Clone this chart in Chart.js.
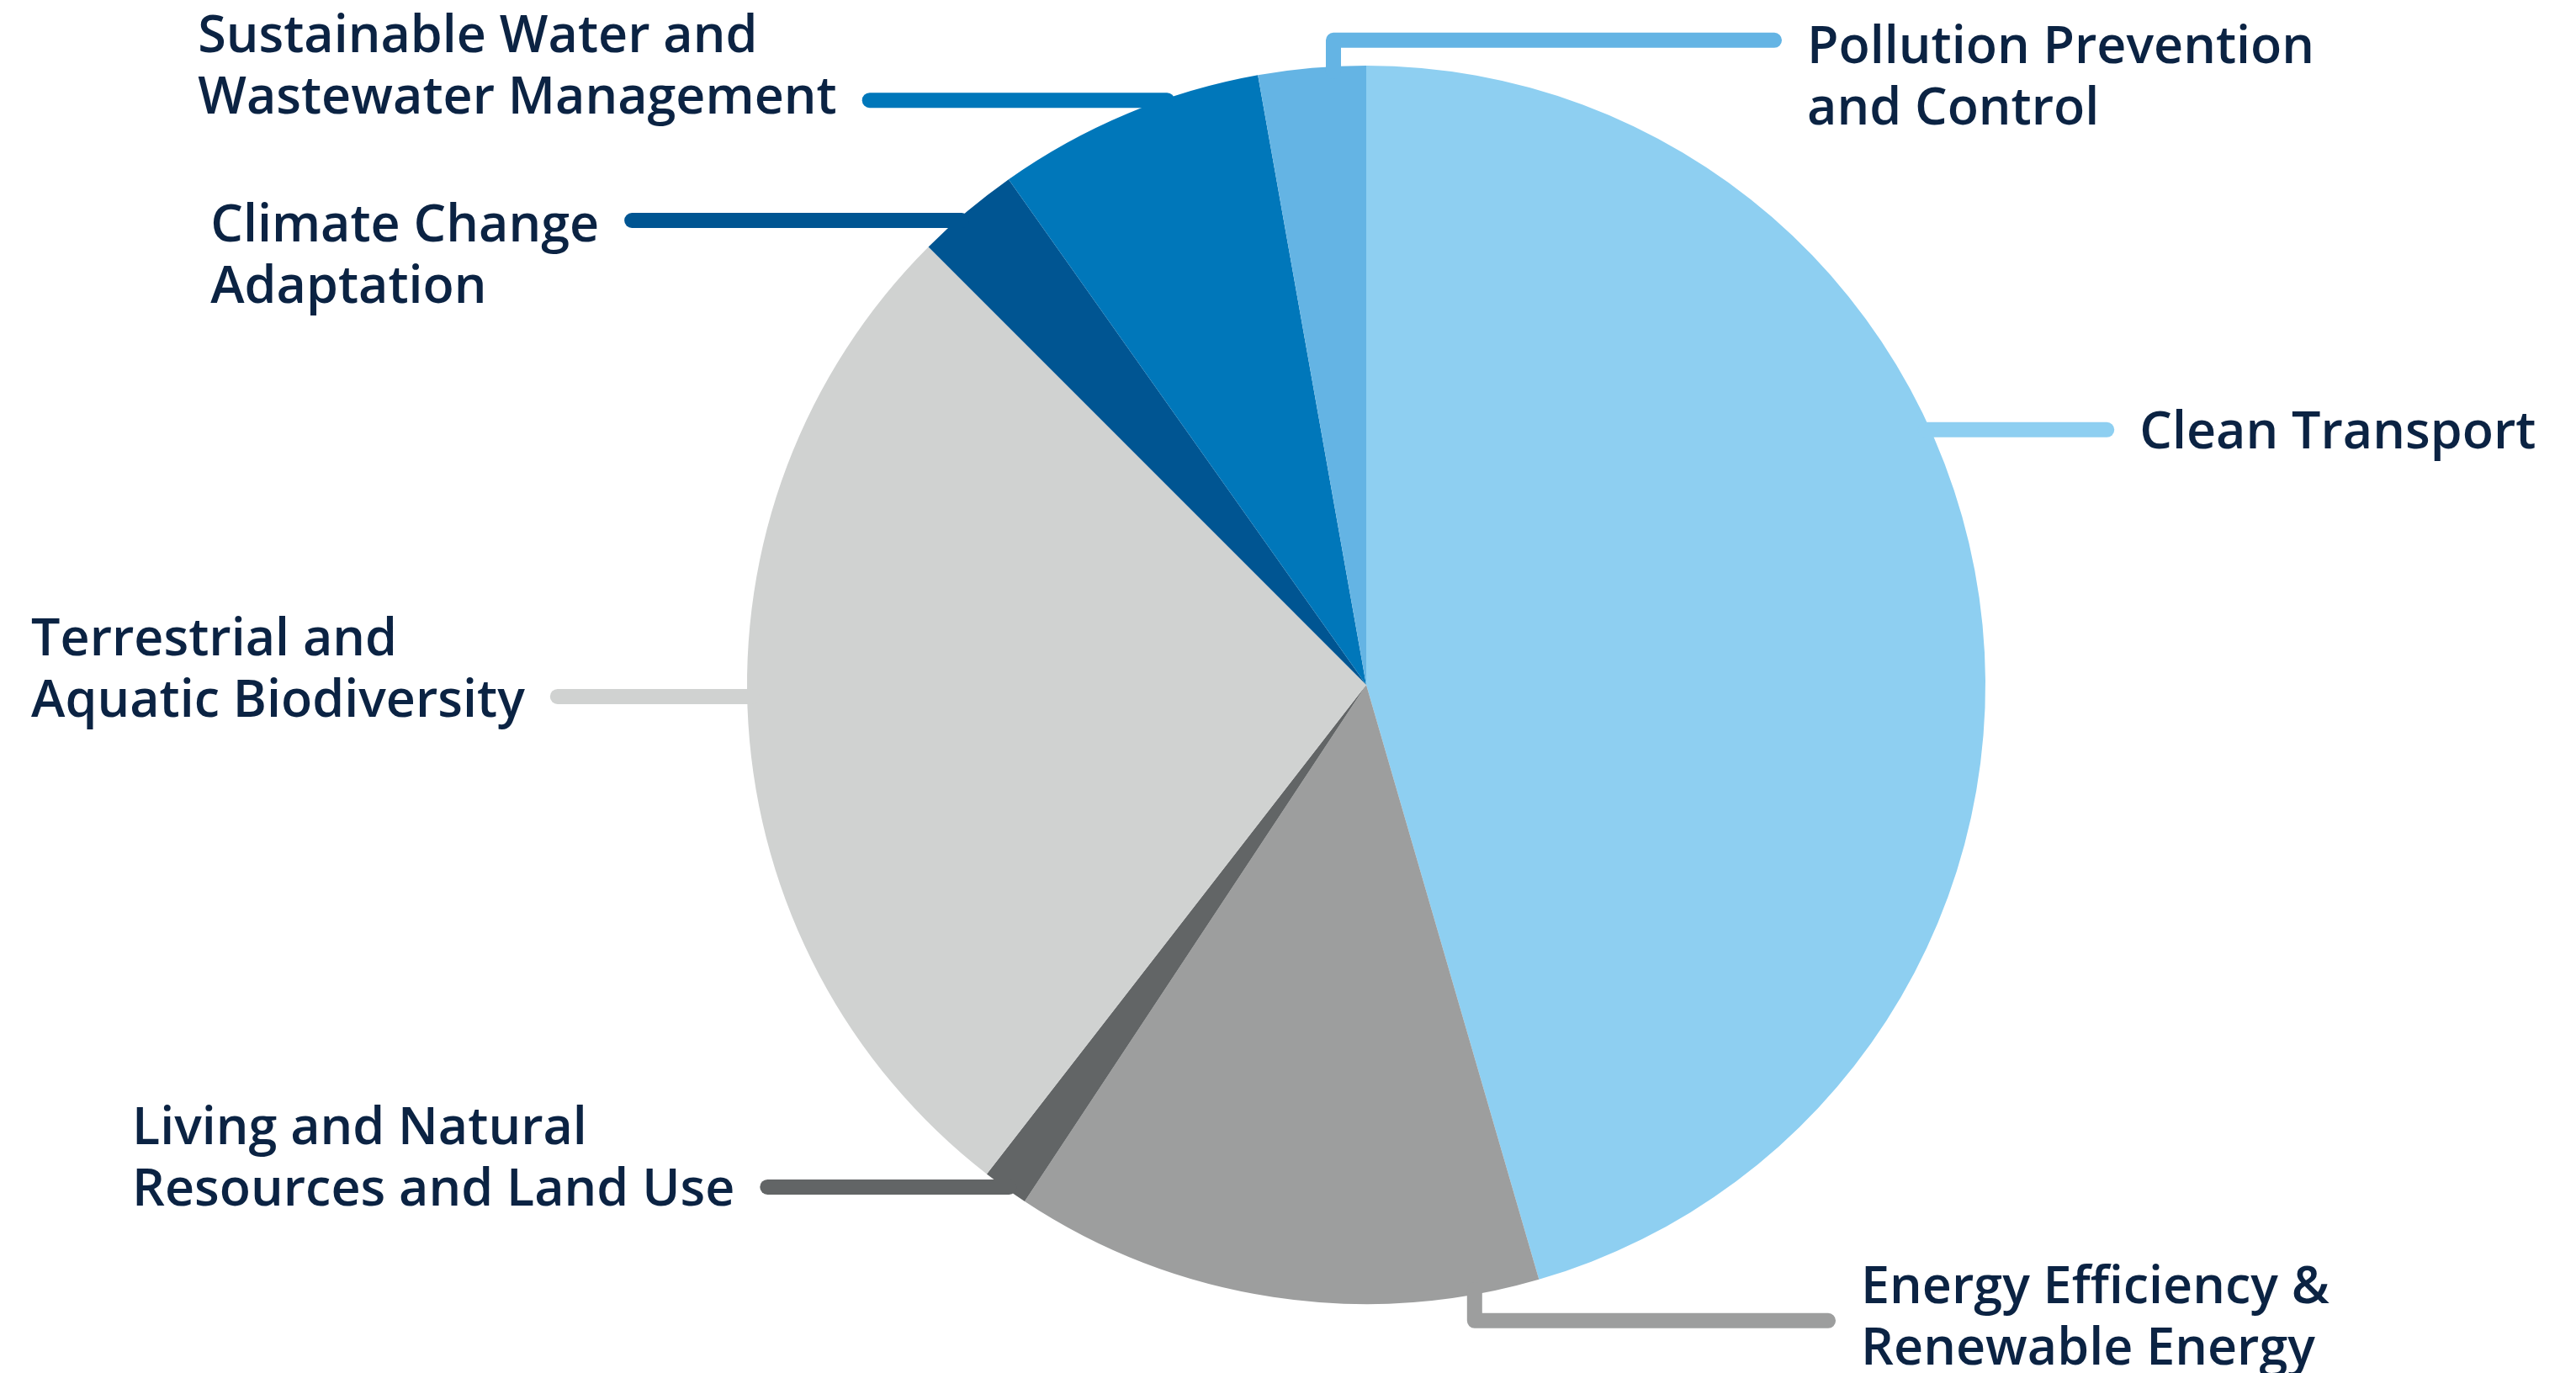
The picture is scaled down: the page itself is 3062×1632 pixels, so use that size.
<!DOCTYPE html>
<html lang="en">
<head>
<meta charset="utf-8">
<title>Asignación por categoría</title>
<script src="https://cdn.jsdelivr.net/npm/chart.js@4.4.1/dist/chart.umd.min.js"></script>
<style>
    html, body { margin: 0; padding: 0; background: #ffffff; }
    #contenedor { width: 3062px; height: 1632px; }
</style>
</head>
<body>
<div id="contenedor"><canvas id="grafico-categorias" width="3062" height="1632"></canvas></div>
<script>
// --- DATOS ---
const categorias = [
    ['Clean Transport'],
    ['Energy Efficiency &', 'Renewable Energy'],
    ['Living and Natural', 'Resources and Land Use'],
    ['Terrestrial and', 'Aquatic Biodiversity'],
    ['Climate Change', 'Adaptation'],
    ['Sustainable Water and', 'Wastewater Management'],
    ['Pollution Prevention', 'and Control']
];
const porcentajes = [45.5, 13.8, 1.2, 27.0, 2.7, 7.0, 2.8];
const colores = ['#8ecff1', '#9d9e9e', '#626566', '#d0d2d1', '#005592', '#0077ba', '#64b4e4'];

// --- ESTILO DE LAS ETIQUETAS ---
const COLOR_TEXTO = '#0b2343';
const FUENTE = '600 61px "Open Sans"';
const INTERLINEA = 73;
const GROSOR = 18;
const SEPARACION = 30;

// Guías de cada etiqueta, en radios y relativas al centro del pastel.
// 'h': línea horizontal a la altura "en" hasta x = "fin".
// 'v': línea vertical en x = "en" hasta y = "codo", luego horizontal hasta x = "fin".
// "base" es el desplazamiento (px) de la primera línea de texto respecto a la guía.
const guias = [
    { dir: 'h', en: -0.412, fin: 1.196, base: 22 },
    { dir: 'v', en: 0.175, codo: 1.027, fin: 0.746, base: -21 },
    { dir: 'h', en: 0.811, fin: -0.967, base: -51 },
    { dir: 'h', en: 0.019, fin: -1.306, base: -49 },
    { dir: 'h', en: -0.750, fin: -1.186, base: 25 },
    { dir: 'h', en: -0.944, fin: -0.802, base: -57 },
    { dir: 'v', en: -0.053, codo: -1.041, fin: 0.659, base: 27 }
];

// Plugin: dibuja las líneas guía y el texto de cada categoría
const etiquetasConGuias = {
    id: 'etiquetasConGuias',
    afterDatasetsDraw(chart) {
        const ctx = chart.ctx;
        const arcos = chart.getDatasetMeta(0).data;
        const cx = arcos[0].x;
        const cy = arcos[0].y;
        const r = arcos[0].outerRadius;

        ctx.save();
        ctx.lineWidth = GROSOR;
        ctx.lineCap = 'round';
        ctx.lineJoin = 'round';
        ctx.font = FUENTE;
        ctx.textAlign = 'left';
        ctx.textBaseline = 'alphabetic';

        guias.forEach((g, i) => {
            const xFin = cx + g.fin * r;
            let yGuia, puntos;
            if (g.dir === 'h') {
                const dy = g.en * r;
                const borde = Math.sqrt(r * r - dy * dy) - 6;
                yGuia = cy + dy;
                puntos = [[cx + Math.sign(g.fin) * borde, yGuia], [xFin, yGuia]];
            } else {
                const dx = g.en * r;
                const borde = Math.sqrt(r * r - dx * dx) - 6;
                yGuia = cy + g.codo * r;
                puntos = [[cx + dx, cy + Math.sign(g.codo) * borde], [cx + dx, yGuia], [xFin, yGuia]];
            }

            ctx.strokeStyle = colores[i];
            ctx.beginPath();
            ctx.moveTo(puntos[0][0], puntos[0][1]);
            puntos.slice(1).forEach(p => ctx.lineTo(p[0], p[1]));
            ctx.stroke();

            // Texto: a la derecha o a la izquierda del final de la guía
            const lineas = categorias[i];
            const ancho = Math.max(...lineas.map(l => ctx.measureText(l).width));
            const xTexto = g.fin > 0
                ? xFin + GROSOR / 2 + SEPARACION
                : xFin - GROSOR / 2 - SEPARACION - ancho;
            ctx.fillStyle = COLOR_TEXTO;
            lineas.forEach((linea, j) => {
                ctx.fillText(linea, xTexto, yGuia + g.base + j * INTERLINEA);
            });
        });
        ctx.restore();
    }
};

const ctx = document.getElementById('grafico-categorias').getContext('2d');
new Chart(ctx, {
    type: 'pie',
    data: {
        labels: categorias,
        datasets: [{
            data: porcentajes,
            backgroundColor: colores,
            borderWidth: 0,
            hoverOffset: 0
        }]
    },
    options: {
        responsive: false,
        animation: false,
        events: [],
        layout: { padding: { left: 888, right: 702, top: 78, bottom: 82 } },
        plugins: {
            legend: { display: false },
            tooltip: { enabled: false }
        }
    },
    plugins: [etiquetasConGuias]
});
</script>
</body>
</html>
